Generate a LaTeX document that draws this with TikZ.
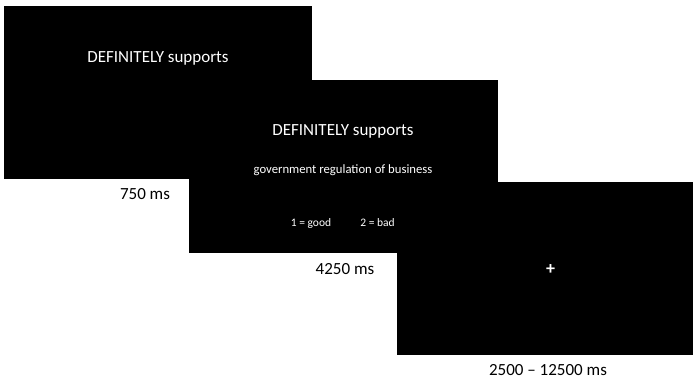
\documentclass[tikz,border=0pt]{standalone}
\usepackage{fontspec}
\setmainfont{Carlito}
\begin{document}
\begin{tikzpicture}[x=1pt,y=-1pt,
  screen/.style={fill=black,draw=none,inner sep=0pt,minimum width=#1,minimum height=173pt},
  bigtxt/.style={text=white,font=\fontsize{17}{20}\selectfont,inner sep=0pt},
  midtxt/.style={text=white,font=\fontsize{12.7}{15}\selectfont,inner sep=0pt},
  smalltxt/.style={text=white,font=\fontsize{11.5}{14}\selectfont,inner sep=0pt},
  timetxt/.style={text=black,font=\fontsize{17}{20}\selectfont,inner sep=0pt}]
\useasboundingbox[fill=white] (0,0) rectangle (695,379);
% screens
\node[screen=308pt] (s1) at (158,92.5) {};
\node[screen=309pt] (s2) at (343.5,166.5) {};
\node[screen=296pt] (s3) at (545,268.5) {};
% texts
\node[bigtxt] (t1) at (158,58) {DEFINITELY supports};
\node[bigtxt] (t2) at (343,131) {DEFINITELY supports};
\node[midtxt] (t3) at (343,170) {government regulation of business};
\node[smalltxt] (t4) at (311,223) {1 = good};
\node[smalltxt] (t5) at (377.5,223) {2 = bad};
\node[bigtxt,font=\fontsize{18}{20}\bfseries] (t6) at (550.5,270) {+};
\node[timetxt] (l1) at (145,194) {750 ms};
\node[timetxt] (l2) at (345,269) {4250 ms};
\node[timetxt] (l3) at (548,370) {2500 – 12500 ms};
\end{tikzpicture}
\end{document}
